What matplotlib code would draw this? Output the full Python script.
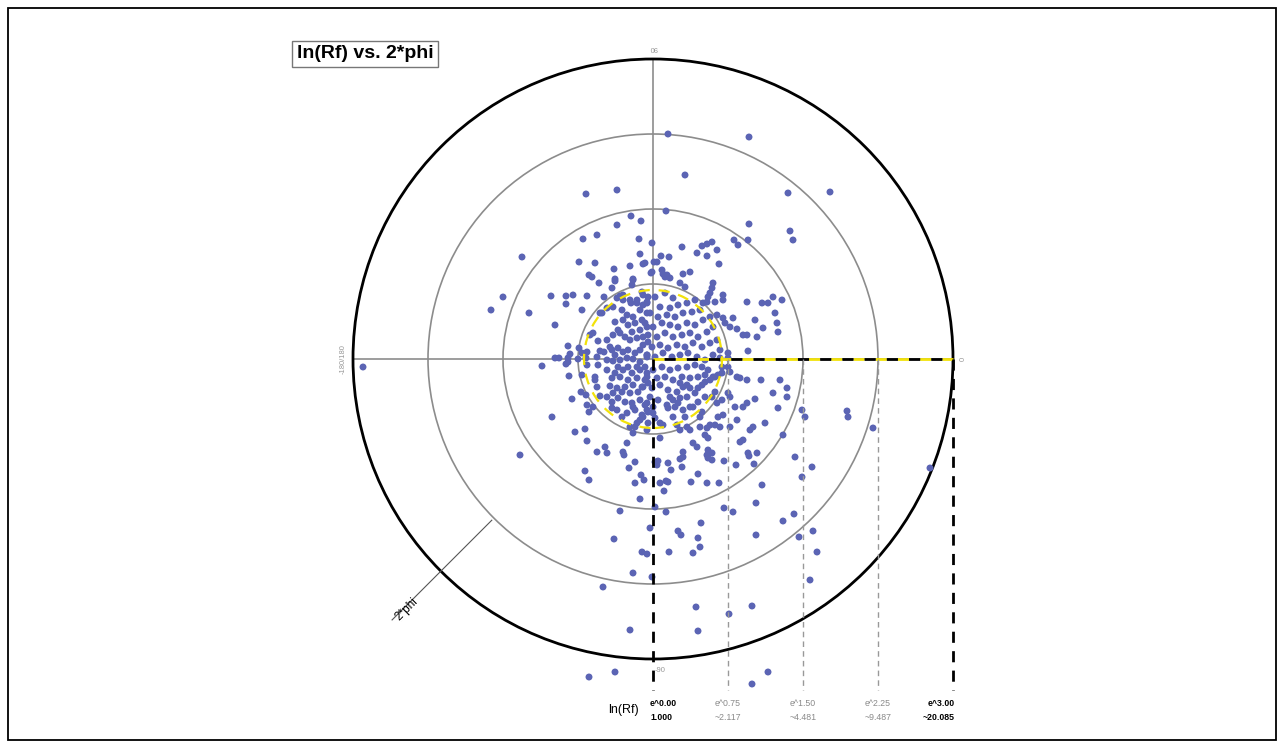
import numpy as np
import matplotlib
matplotlib.use("Agg")
import matplotlib.pyplot as plt
from matplotlib.patches import Circle, Rectangle

plt.rcParams['font.family'] = ['Liberation Sans', 'DejaVu Sans']

# ---------------- data ----------------
title_text = "ln(Rf) vs. 2*phi"
ring_levels = [0.75, 1.50, 2.25, 3.00]
tick_positions = [0.00, 0.75, 1.50, 2.25, 3.00]
tick_exp_labels = ['e^0.00', 'e^0.75', 'e^1.50', 'e^2.25', 'e^3.00']
tick_value_labels = ['1.000', '~2.117', '~4.481', '~9.487', '~20.085']
mean_ln_rf = 0.69

# points given as components (ln(Rf)*cos(2phi), ln(Rf)*sin(2phi))
pts_sparse = [(-2.90,-0.08),(-1.62,0.49),(-1.50,0.62),(-1.33,-0.96),(-1.01,-0.58),(1.94,-0.52),(1.95,-0.58),
    (2.20,-0.69),(2.77,-1.09),(1.77,1.67),(0.96,2.22),(0.15,2.25),(0.32,1.84),(1.35,1.66),(-0.67,1.65),
    (-0.36,1.69),(0.13,1.48),(-0.22,1.43),(-0.12,1.38),(-0.36,1.34),(-0.70,1.20),(-0.56,1.24),(-0.14,1.20),
    (-0.01,1.16),(-1.31,1.02),(-0.74,0.97),(-0.58,0.96),(-0.39,0.90),(-0.23,0.93),(-0.13,1.05),(-0.10,0.95),
    (-0.08,0.96),(0.01,0.97),(0.04,0.97),(0.08,1.03),(0.16,1.02),(-0.02,0.86),(-0.64,0.84),(-0.61,0.82),
    (-0.38,0.80),(-0.20,0.80),(0.09,0.89),(0.10,0.85),(0.14,0.84),(0.96,1.35),(1.37,1.28),(1.40,1.19),
    (0.81,1.19),(0.95,1.19),(0.85,1.14),(0.29,1.12),(0.49,1.13),(0.54,1.15),(0.59,1.17),(0.44,1.06),
    (0.54,1.03),(0.64,1.09),(0.66,0.95),(0.30,0.85),(0.37,0.87)]

pts_left = [(-1.24,0.46),(-1.02,0.63),(-0.87,0.63),(-0.80,0.64),(-0.87,0.55),(-0.66,0.63),(-0.54,0.76),
    (-0.38,0.78),(-0.41,0.71),(-0.49,0.62),(-0.71,0.49),(-0.98,0.34),(-0.53,0.46),(-0.46,0.51),(-0.33,0.63),
    (-0.30,0.59),(-0.20,0.79),(-0.21,0.74),(-0.23,0.59),(-0.16,0.56),(-0.10,0.64),(-0.06,0.56),(-0.63,0.24),
    (-0.60,0.26),(-0.55,0.18),(-0.46,0.19),(-0.85,0.13),(-0.74,0.11),(-0.71,0.06),(-0.66,0.07),(-0.53,0.08),
    (-0.49,0.07),(-0.98,0.01),(-0.94,0.01),(-0.85,0.01),(-0.83,0.05),(-0.75,0.00),(-0.67,0.01),(-0.56,0.02),
    (-1.11,-0.07),(-0.87,-0.05),(-0.85,-0.03),(-0.66,-0.06),(-0.55,-0.06),(-0.84,-0.17),(-0.71,-0.16),
    (-0.58,-0.18),(-0.58,-0.21),(-0.56,-0.28),(-0.72,-0.33),(-0.81,-0.40),(-0.67,-0.36),(-0.53,-0.37),
    (-0.46,-0.38),(-0.66,-0.46),(-0.64,-0.53),(-0.60,-0.48),(-0.41,-0.49),(-0.36,-0.51),(-0.31,-0.58),
    (-0.78,-0.73),(-0.68,-0.70),(-0.66,-0.82),(-0.56,-0.93),(-0.48,-0.88),(-0.46,-0.94),(-0.30,-0.93),
    (-0.29,-0.96),(-0.26,-0.84),(-0.20,-0.74),(-0.18,-0.68),(-0.16,-0.64)]

pts_center_left = [(-0.36,0.61),(-0.30,0.64),(-0.22,0.56),(-0.16,0.59),(-0.11,0.67),(-0.05,0.62),
    (-0.51,0.46),(-0.40,0.52),(-0.31,0.49),(-0.26,0.44),(-0.20,0.42),(-0.13,0.49),(-0.06,0.46),(-0.10,0.54),
    (-0.38,0.37),(-0.30,0.39),(-0.25,0.34),(-0.18,0.36),(-0.11,0.39),(-0.06,0.32),(-0.35,0.29),(-0.21,0.27),
    (-0.13,0.29),(-0.40,0.24),(-0.33,0.26),(-0.28,0.22),(-0.23,0.19),(-0.16,0.21),(-0.10,0.22),(-0.05,0.17),
    (-0.43,0.12),(-0.41,0.09),(-0.35,0.11),(-0.30,0.07),(-0.25,0.09),(-0.18,0.06),(-0.13,0.09),(-0.06,0.04),
    (-0.38,0.04),(-0.46,-0.01),(-0.40,-0.02),(-0.33,-0.01),(-0.26,0.01),(-0.20,0.00),(-0.13,-0.03),
    (-0.06,0.02),(-0.35,-0.08),(-0.25,-0.08),(-0.16,-0.08),(-0.46,-0.11),(-0.38,-0.14),(-0.30,-0.11),
    (-0.21,-0.14),(-0.13,-0.11),(-0.06,-0.14),(-0.41,-0.19),(-0.33,-0.18),(-0.25,-0.21),(-0.16,-0.19),
    (-0.08,-0.21),(-0.43,-0.27),(-0.36,-0.29),(-0.28,-0.28),(-0.20,-0.26),(-0.11,-0.28),(-0.05,-0.24),
    (-0.40,-0.34),(-0.31,-0.33),(-0.23,-0.34),(-0.15,-0.33),(-0.41,-0.43),(-0.35,-0.39),(-0.28,-0.43),
    (-0.21,-0.44),(-0.13,-0.41),(-0.06,-0.44),(-0.20,-0.48),(-0.26,-0.54),(-0.18,-0.51),(-0.11,-0.56),
    (-0.05,-0.53),(-0.23,-0.68),(-0.06,-0.71),(-0.13,-0.61)]

pts_center_right = [(-0.01,0.87),(0.12,0.82),(0.17,0.81),(0.27,0.76),(0.32,0.72),(0.60,0.76),(0.59,0.71),
    (0.57,0.66),(0.55,0.62),(0.50,0.56),(0.54,0.57),(0.62,0.57),(0.70,0.59),(0.70,0.64),(0.94,0.57),
    (1.09,0.56),(1.15,0.56),(1.20,0.62),(1.29,0.59),(1.22,0.46),(1.02,0.39),(1.24,0.36),(1.25,0.27),
    (1.10,0.31),(1.04,0.22),(0.90,0.24),(0.94,0.24),(0.84,0.30),(0.77,0.32),(0.70,0.41),(0.72,0.36),
    (0.80,0.41),(0.64,0.44),(0.95,0.08),(0.75,0.06),(0.75,0.01),(0.67,0.01),(0.69,-0.08),(0.75,-0.08),
    (0.77,-0.13),(0.84,-0.18),(0.87,-0.19),(0.94,-0.21),(1.08,-0.21),(1.27,-0.21),(1.34,-0.29),(1.20,-0.34),
    (1.02,-0.40),(0.94,-0.44),(0.90,-0.48),(0.82,-0.48),(0.77,-0.38),(0.75,-0.34),(1.25,-0.49),(1.34,-0.38),
    (1.12,-0.64),(1.30,-0.76),(0.84,-0.61),(0.97,-0.71),(1.00,-0.68),(0.87,-0.83),(0.90,-0.81),(0.77,-0.68),
    (0.65,-0.58),(0.62,-0.66),(0.67,-0.68),(0.54,-0.69),(0.57,-0.66),(0.52,-0.76),(0.55,-0.79),(0.47,-0.68),
    (0.37,-0.71),(0.34,-0.68),(0.24,-0.66),(0.27,-0.71),(0.40,-0.84),(0.44,-0.88),(0.54,-0.96),(0.59,-0.94),
    (0.55,-0.91),(0.07,-0.79),(0.07,-0.64),(0.10,-0.66),(0.30,-0.93),(0.95,-0.94),(1.04,-0.94),(0.70,-0.56),
    (0.64,-0.44),(0.69,-0.41),(0.59,-0.38),(0.62,-0.33),(0.45,-0.29),(0.49,-0.26),(0.52,-0.23),(0.57,-0.21),
    (0.60,-0.18),(0.65,-0.16),(0.69,-0.14),(0.27,-0.24),(0.30,-0.28),(0.34,-0.26),(0.17,-0.38),(0.20,-0.41),
    (0.22,-0.48),(0.14,-0.46),(0.15,-0.49),(0.40,-0.48),(0.30,-0.51),(0.49,-0.53),(-0.08,-0.46),(-0.06,-0.51),
    (-0.10,-0.58),(0.00,-0.54),(0.02,-0.59),(1.49,-0.51),(1.52,-0.58)]

pts_center_dense = [(-0.06,0.57),(0.02,0.62),(0.12,0.66),(0.20,0.61),(0.07,0.52),(0.17,0.51),(0.25,0.54),
    (0.34,0.56),(0.42,0.59),(-0.03,0.46),(0.05,0.42),(0.14,0.44),(0.22,0.42),(0.30,0.46),(0.39,0.47),
    (0.47,0.49),(-0.08,0.36),(0.00,0.32),(0.09,0.36),(0.17,0.34),(0.25,0.32),(0.34,0.36),(0.42,0.34),
    (0.50,0.39),(0.57,0.42),(-0.05,0.24),(0.04,0.22),(0.12,0.26),(0.20,0.22),(0.29,0.24),(0.37,0.26),
    (0.45,0.22),(0.54,0.27),(0.60,0.32),(-0.10,0.14),(-0.01,0.12),(0.07,0.14),(0.15,0.11),(0.24,0.14),
    (0.32,0.12),(0.40,0.16),(0.49,0.12),(0.57,0.16),(0.64,0.19),(-0.06,0.04),(0.02,0.02),(0.10,0.06),
    (0.19,0.02),(0.27,0.04),(0.35,0.06),(0.44,0.02),(0.52,-0.01),(0.60,0.04),(0.67,0.09),
    (-0.08,-0.08),(0.00,-0.11),(0.09,-0.08),(0.17,-0.11),(0.25,-0.09),(0.34,-0.08),(0.42,-0.06),(0.49,-0.08),
    (0.55,-0.11),(0.62,-0.18),(-0.06,-0.18),(0.04,-0.19),(0.12,-0.18),(0.20,-0.21),(0.29,-0.18),(0.37,-0.19),
    (0.45,-0.18),(0.52,-0.16),(-0.10,-0.28),(-0.01,-0.29),(0.07,-0.26),(0.15,-0.31),(0.24,-0.33),(0.37,-0.29),
    (0.42,-0.34),(-0.03,-0.38),(0.05,-0.41),(0.27,-0.39),(0.34,-0.38),(0.45,-0.43),(0.52,-0.38),(0.00,-0.48),
    (0.25,-0.44),(0.37,-0.48),(0.32,-0.58),(0.20,-0.58),(0.47,-0.58),(-0.05,-0.64)]

pts_lower = [(-0.18,-1.03),(-0.24,-1.09),(-0.68,-1.12),(-0.64,-1.21),(-0.12,-1.16),(-0.09,-1.21),(-0.18,-1.24),
    (0.03,-1.04),(0.05,-1.02),(0.04,-1.06),(0.02,-1.03),(0.15,-1.04),(0.18,-1.11),(0.07,-1.24),(0.13,-1.22),
    (0.15,-1.23),(0.11,-1.32),(0.27,-1.00),(0.30,-0.98),(0.29,-1.08),(0.45,-1.15),(0.38,-1.23),(0.54,-1.24),
    (0.55,-0.99),(0.59,-1.01),(0.66,-1.24),(0.71,-1.02),(0.83,-1.06),(0.96,-0.97),(1.01,-1.05),(1.09,-1.26),
    (1.42,-0.98),(1.59,-1.08),(1.49,-1.18),(-0.13,-1.40),(0.02,-1.48),(-0.33,-1.52),(0.13,-1.53),(0.71,-1.49),
    (0.80,-1.53),(1.03,-1.44),(1.41,-1.55),(1.30,-1.62),(0.48,-1.64),(-0.03,-1.69),(0.25,-1.72),(0.28,-1.76),
    (-0.39,-1.80),(0.45,-1.79),(1.03,-1.76),(1.46,-1.78),(1.60,-1.72),(1.64,-1.93),(-0.11,-1.93),(-0.06,-1.95),
    (0.16,-1.93),(0.40,-1.94),(0.47,-1.88),(-0.20,-2.14),(-0.01,-2.18),(-0.50,-2.28),(1.57,-2.21),(0.43,-2.48),
    (0.99,-2.47),(0.76,-2.55),(-0.23,-2.71),(0.45,-2.72),(-0.38,-3.13),(-0.64,-3.18),(1.15,-3.13),(0.99,-3.25)]

# ---------------- derive ln(Rf), 2*phi ----------------
comp = np.array(pts_sparse + pts_left + pts_center_left + pts_center_right + pts_center_dense + pts_lower)
ln_rf = np.hypot(comp[:, 0], comp[:, 1])
two_phi = np.degrees(np.arctan2(comp[:, 1], comp[:, 0]))

px = ln_rf * np.cos(np.radians(two_phi))
py = ln_rf * np.sin(np.radians(two_phi))

# ---------------- figure ----------------
W, H = 1284, 749
fig = plt.figure(figsize=(W / 100, H / 100), dpi=100)
ax = fig.add_axes([0, 0, 1, 1])
ax.set_xlim(-6.53, 6.31)
ax.set_ylim(-3.90, 3.59)
ax.axis('off')

# outer frame
fig.patches.append(Rectangle((8 / W, 9 / H), 1268 / W, 732 / H, transform=fig.transFigure,
                             fill=False, edgecolor='black', linewidth=1.3))

R = ring_levels[-1]
grey = '#8c8c8c'
# cross axes
ax.plot([-R, R], [0, 0], color=grey, lw=1.2, zorder=1)
ax.plot([0, 0], [0, R], color=grey, lw=1.2, zorder=1)

# rings
for lv in ring_levels[:-1]:
    ax.add_patch(Circle((0, 0), lv, fill=False, edgecolor=grey, lw=1.2, zorder=1))
ax.add_patch(Circle((0, 0), R, fill=False, edgecolor='black', lw=2.0, zorder=1))

# scatter points
ax.scatter(px, py, s=25, color='#5b64b4', edgecolors='none', zorder=2)

# mean circle dashed yellow
ax.add_patch(Circle((0, 0), mean_ln_rf, fill=False, edgecolor='#f2e20a', lw=1.6,
                    linestyle=(0, (5, 4)), zorder=3))

# horizontal yellow/black dashed line to the right
ax.plot([0, R], [0, 0], color='#f2e20a', lw=2.0, zorder=3, linestyle=(0, (4, 4)))
ax.plot([0, R], [0, 0], color='black', lw=2.0, zorder=3, linestyle=(4, (4, 4)))

# vertical dashed lines to the ln(Rf) scale
y_bottom = -3.31
for i, t in enumerate(tick_positions):
    if i == 0 or i == len(tick_positions) - 1:
        ax.plot([t, t], [0, y_bottom], color='black', lw=2.0, linestyle=(0, (4, 3)), zorder=3)
    else:
        ax.plot([t, t], [0, y_bottom], color='#999999', lw=1.0, linestyle=(0, (4, 3)), zorder=3)

# ln(Rf) scale labels
for i, t in enumerate(tick_positions):
    if i == 0:
        ha, c, fw = 'left', 'black', 'bold'
        xx = t - 0.03
    elif i == len(tick_positions) - 1:
        ha, c, fw = 'right', 'black', 'bold'
        xx = t + 0.02
    else:
        ha, c, fw = 'center', '#8a8a8a', 'normal'
        xx = t
    ax.text(xx, -3.44, tick_exp_labels[i], ha=ha, va='center', fontsize=6.3, color=c, fontweight=fw)
    ax.text(xx, -3.58, tick_value_labels[i], ha=ha, va='center', fontsize=6.3, color=c, fontweight=fw)
ax.text(-0.30, -3.51, 'ln(Rf)', ha='center', va='center', fontsize=9, color='black')

# angle labels
ax.text(0.02, -3.11, '-90', ha='left', va='center', fontsize=5.5, color='#999999')
ax.text(0.0, 3.12, '90', ha='center', va='center', fontsize=5.5, color='#999999', rotation=180)
ax.text(-3.10, 0.0, '-180/180', ha='center', va='center', fontsize=5.5, color='#999999', rotation=90)
ax.text(3.10, 0.0, '0', ha='center', va='center', fontsize=5.5, color='#999999', rotation=90)

# 2*phi indicator
ang = np.radians(225)
r0, r1 = 2.28, 3.69
ax.plot([r0 * np.cos(ang), r1 * np.cos(ang)], [r0 * np.sin(ang), r1 * np.sin(ang)],
        color='#555555', lw=0.8, zorder=1)
ax.text(-2.46, -2.50, '2*phi', ha='center', va='center', fontsize=8.5, rotation=45, color='black')

# title box
ax.text(-2.88, 3.05, title_text, ha='center', va='center', fontsize=14, fontweight='bold',
        bbox=dict(boxstyle='square,pad=0.25', facecolor='white', edgecolor='#777777', lw=1.0))

fig.savefig('out.png', dpi=100)
